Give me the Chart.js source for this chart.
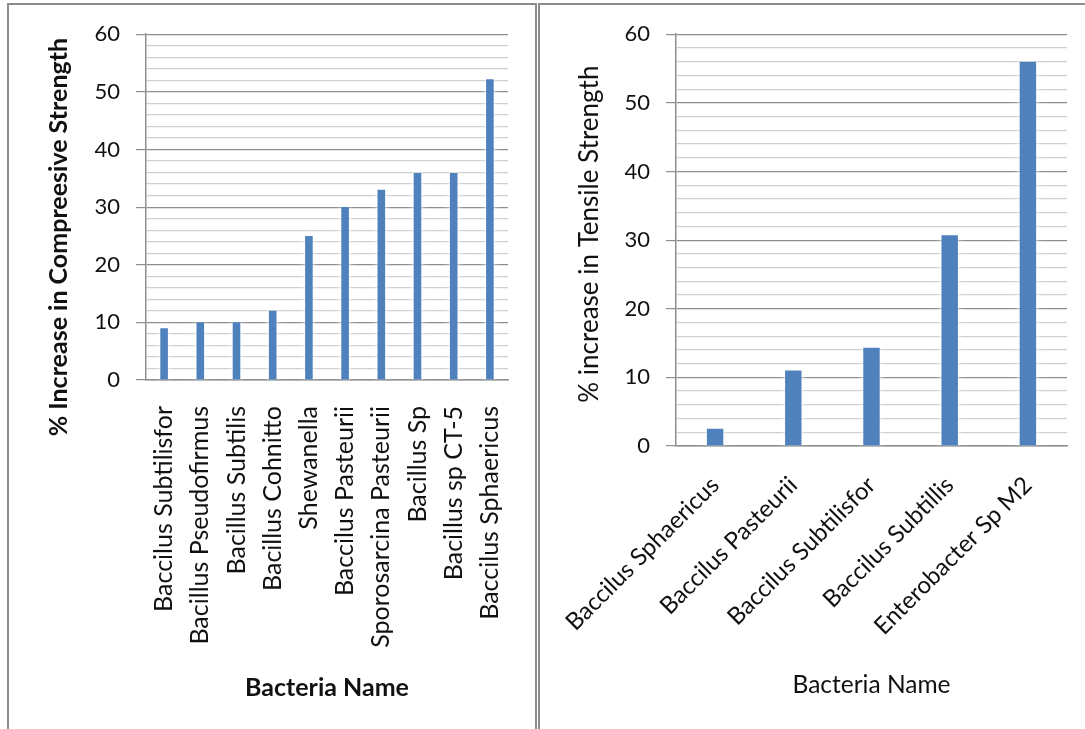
<!DOCTYPE html>
<html>
<head>
<meta charset="utf-8">
<script src="https://cdn.jsdelivr.net/npm/chart.js@4.4.0/dist/chart.umd.min.js"></script>
<style>
  html, body { margin: 0; padding: 0; background: #fff; overflow: hidden; }
  body { width: 1085px; height: 729px; position: relative; }
  .panel { position: absolute; border: 2px solid #8c8c8c; border-bottom: none; box-sizing: border-box; }
  #leftPanel { left: 7px; top: 3px; width: 530px; height: 740px; }
  #rightPanel { left: 538px; top: 3px; width: 560px; height: 740px; border-right: none; }
  canvas { position: absolute; }
</style>
</head>
<body>
<div class="panel" id="leftPanel"></div>
<div class="panel" id="rightPanel"></div>
<canvas id="leftChart" width="525" height="724" style="left:10px; top:5px;"></canvas>
<canvas id="rightChart" width="545" height="724" style="left:540px; top:5px;"></canvas>
<script>
// compressive strength (left)
const leftCategories = ['Baccilus Subtilisfor', 'Bacillus Pseudofirmus', 'Bacillus Subtilis', 'Bacillus Cohnitto',
    'Shewanella', 'Baccilus Pasteurii', 'Sporosarcina Pasteurii', 'Bacillus Sp', 'Bacillus sp CT-5', 'Baccilus Sphaericus'];
const leftValues = [9, 10, 10, 12, 25, 30, 33, 35.9, 35.9, 52.2];

// tensile strength (right)
const rightCategories = ['Baccilus Sphaericus', 'Baccilus Pasteurii', 'Baccilus Subtilisfor', 'Baccilus Subtillis', 'Enterobacter Sp M2'];
const rightValues = [2.5, 11, 14.3, 30.7, 56];

const yMin = 0, yMax = 60, yStep = 2, yLabelStep = 10;

const font = 'Lato';
const textColor = '#111';
const barColor = '#4F81BD';
const majorGrid = '#8e8e8e';
const minorGrid = '#cfcfcf';

// white halo round the bars
const glow = {
    id: 'glow',
    beforeDatasetsDraw(chart) {
        chart.ctx.save();
        chart.ctx.shadowColor = 'rgba(255,255,255,1)';
        chart.ctx.shadowBlur = 7;
    },
    afterDatasetsDraw(chart) {
        chart.ctx.restore();
    }
};

// y axis title, drawn by hand so it can sit off-centre like the original
const yTitle = {
    id: 'yTitle',
    afterDraw(chart, args, o) {
        const { ctx, chartArea } = chart;
        ctx.save();
        ctx.translate(o.x, (chartArea.top + chartArea.bottom) / 2 + o.shift);
        ctx.rotate(-Math.PI / 2);
        ctx.font = `${o.bold ? 'bold ' : ''}${o.size}px ${font}`;
        ctx.fillStyle = textColor;
        ctx.textAlign = 'center';
        ctx.textBaseline = 'middle';
        ctx.fillText(o.text, 0, 0);
        ctx.restore();
    }
};

function makeChart(id, labels, values, opts) {
    const ctx = document.getElementById(id).getContext('2d');
    return new Chart(ctx, {
        type: 'bar',
        data: {
            labels,
            datasets: [{
                data: values,
                backgroundColor: barColor,
                borderWidth: 0,
                categoryPercentage: 1,
                barPercentage: 0.21
            }]
        },
        options: {
            responsive: false,
            animation: false,
            devicePixelRatio: 1,
            layout: { padding: { top: 29, right: opts.padRight, left: 0, bottom: 0 } },
            plugins: {
                legend: { display: false },
                tooltip: { enabled: false },
                yTitle: { text: opts.yTitle, bold: opts.bold, size: opts.yTitleSize, x: opts.yTitleX, shift: opts.yTitleShift }
            },
            scales: {
                x: {
                    // fixed height, and don't let long labels squeeze the plot
                    afterFit: s => { s.height = opts.xHeight; s.paddingLeft = 0; s.paddingRight = 0; },
                    grid: { display: false, drawTicks: false },
                    border: { color: majorGrid, width: 1.5 },
                    ticks: {
                        autoSkip: false,
                        minRotation: opts.rotation,
                        maxRotation: opts.rotation,
                        padding: opts.labelPad,
                        color: textColor,
                        font: { family: font, size: opts.labelSize }
                    },
                    title: {
                        display: true,
                        text: 'Bacteria Name',
                        color: textColor,
                        font: { family: font, size: opts.xTitleSize, weight: opts.bold ? 'bold' : 'normal' },
                        padding: { top: 0, bottom: opts.titlePad }
                    }
                },
                y: {
                    min: yMin,
                    max: yMax,
                    afterFit: s => { s.width = 136; },
                    ticks: {
                        stepSize: yStep,
                        autoSkip: false,
                        padding: 16,
                        color: textColor,
                        font: { family: font, size: 22 },
                        callback: v => (v % yLabelStep === 0 ? v : '')
                    },
                    grid: {
                        color: c => (c.tick && c.tick.value % yLabelStep === 0 ? majorGrid : minorGrid),
                        tickColor: c => (c.tick && c.tick.value % yLabelStep === 0 ? majorGrid : 'rgba(0,0,0,0)'),
                        tickLength: 10,
                        lineWidth: 1.2
                    },
                    border: { color: majorGrid, width: 1.5 }
                }
            }
        },
        plugins: [glow, yTitle]
    });
}

makeChart('leftChart', leftCategories, leftValues, {
    padRight: 27, xHeight: 349, rotation: 90, labelPad: 26, labelSize: 25, titlePad: 26, xTitleSize: 25,
    yTitle: '% Increase in Compreesive Strength', yTitleSize: 25, yTitleX: 49, yTitleShift: 30, bold: true
});

makeChart('rightChart', rightCategories, rightValues, {
    padRight: 18, xHeight: 283, rotation: 45, labelPad: 25, labelSize: 24, titlePad: 29, xTitleSize: 24.5,
    yTitle: '% increase in Tensile Strength', yTitleSize: 26, yTitleX: 50, yTitleShift: -6, bold: false
});
</script>
</body>
</html>
